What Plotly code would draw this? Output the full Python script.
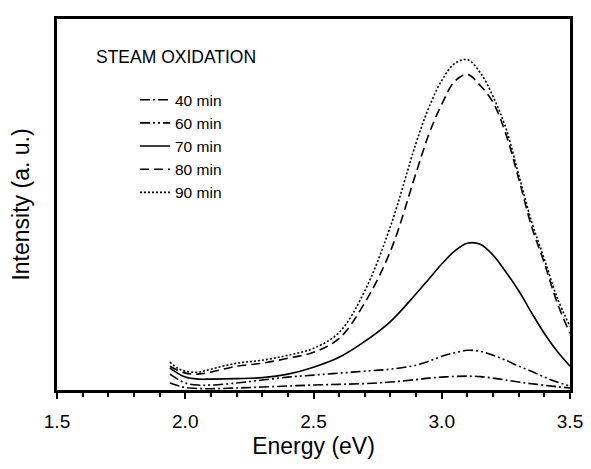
import plotly.graph_objects as go

energy = [1.94, 1.97, 2.0, 2.05, 2.1, 2.2, 2.3, 2.4, 2.5, 2.6, 2.7, 2.8, 2.9, 2.95,
          3.0, 3.05, 3.1, 3.15, 3.2, 3.25, 3.3, 3.35, 3.4, 3.45, 3.5]

i_40 = [7, 4.5, 2.5, 1.5, 1.3, 2, 3, 4, 5, 5.7, 6.5, 8, 10.5, 12,
        13, 13.7, 14, 13.5, 12, 10, 8, 6.3, 4.8, 3.3, 2]
i_60 = [16, 11, 7, 5, 5, 7, 10, 13, 15, 17, 19, 21, 25, 29,
        34, 37.5, 40, 39, 35, 30, 24, 19, 13, 8, 4]
i_70 = [22, 17, 13, 11, 11, 11.5, 12.5, 16, 23, 33, 49, 69, 97, 112,
        127, 140, 148, 147, 136, 119, 100, 78, 57, 39, 24]
i_80 = [24, 20, 17, 16, 18, 24, 27, 32, 38, 52, 88, 140, 219, 258,
        288, 311, 318, 307, 290, 258, 213, 165, 128, 88, 57]
i_90 = [28, 22, 19, 18, 21, 27, 30, 35, 42, 58, 100, 165, 249, 285,
        312, 329, 333, 320, 296, 264, 217, 170, 132, 93, 64]

series_names = ["40 min", "60 min", "70 min", "80 min", "90 min"]
series_vals = [i_40, i_60, i_70, i_80, i_90]
dashes = ["10px,3px,2px,3px", "10px,3px,2px,3px,2px,3px", "solid", "9px,5px", "2px,2px"]

fig = go.Figure()
for name, vals, d in zip(series_names, series_vals, dashes):
    fig.add_trace(go.Scatter(x=energy, y=vals, mode="lines", name=name,
                             line=dict(color="black", width=1.6, dash=d, shape="spline")))

font = "Arial, Liberation Sans, sans-serif"
fig.update_layout(
    width=583, height=461,
    margin=dict(l=49, r=16, t=8, b=79),
    plot_bgcolor="white", paper_bgcolor="white",
    font=dict(family=font, color="black", size=16),
    showlegend=True,
    legend=dict(x=0.152, y=0.827, xanchor="left", yanchor="top",
                bgcolor="rgba(0,0,0,0)", font=dict(size=15.5),
                tracegroupgap=0),
    annotations=[dict(text="STEAM OXIDATION", x=0.072, y=0.897, xref="paper", yref="paper",
                      xanchor="left", yanchor="middle", showarrow=False,
                      font=dict(size=17.5))],
)
fig.update_xaxes(range=[1.5, 3.5], dtick=0.5, tick0=1.5, tickformat=".1f",
                 showline=True, linecolor="black", linewidth=3, mirror=True,
                 ticks="outside", ticklen=6, tickwidth=2, tickcolor="black",
                 minor=dict(dtick=0.1, ticks="outside", ticklen=4, tickwidth=1.5, tickcolor="black"),
                 showgrid=False, zeroline=False,
                 tickfont=dict(size=19), ticklabelstandoff=6,
                 title=dict(text="Energy (eV)", font=dict(size=23), standoff=8))
fig.update_yaxes(range=[0, 374], showline=True, linecolor="black", linewidth=3, mirror=True,
                 ticks="", showticklabels=False, showgrid=False, zeroline=False,
                 title=dict(text="Intensity (a. u.)", font=dict(size=23), standoff=20))

fig.write_html("out.html")
